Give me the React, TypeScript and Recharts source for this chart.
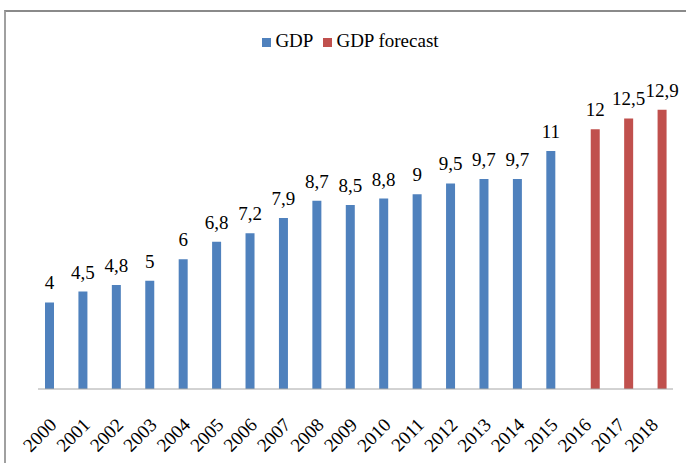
import { Bar, BarChart, LabelList, Legend, XAxis, YAxis } from "recharts";

const years = [
  "2000", "2001", "2002", "2003", "2004", "2005", "2006", "2007", "2008", "2009",
  "2010", "2011", "2012", "2013", "2014", "2015", "2016", "2017", "2018",
];
const gdp = [4, 4.5, 4.8, 5, 6, 6.8, 7.2, 7.9, 8.7, 8.5, 8.8, 9, 9.5, 9.7, 9.7, 11, null, null, null];
const forecast = [null, null, null, null, null, null, null, null, null, null, null, null, null, null, null, null, 12, 12.5, 12.9];

const data = years.map((year, i) => ({ year, gdp: gdp[i], forecast: forecast[i] }));

const FONT = "'Liberation Serif', 'Times New Roman', serif";

// comma as decimal separator, like the original
const fmt = (v: any) => (v == null ? "" : String(v).replace(".", ","));

function YearTick({ x, y, payload }: any) {
  const ax = x + 3;
  const ay = y + 29;
  return (
    <text
      x={ax}
      y={ay}
      transform={`rotate(-45, ${ax}, ${ay})`}
      textAnchor="end"
      fontSize={19}
      fontFamily={FONT}
      fill="#000"
    >
      {payload.value}
    </text>
  );
}

export default function App() {
  return (
    <div style={{ position: "fixed", left: 0, top: 0, width: 686, height: 463, overflow: "hidden", background: "#fff" }}>
      <div
        style={{
          position: "absolute",
          left: 4,
          top: 10,
          width: 720,
          height: 500,
          borderTop: "2px solid #8a8a8a",
          borderLeft: "2px solid #a0a0a0",
        }}
      />
      <div style={{ position: "absolute", left: 0, top: 0 }}>
        <BarChart
          width={686}
          height={463}
          data={data}
          margin={{ top: 62, right: 13, bottom: 0, left: 38 }}
          barSize={9}
          barGap={2}
        >
          <Legend
            verticalAlign="top"
            align="center"
            height={24}
            iconType="square"
            iconSize={9}
            wrapperStyle={{ top: 30, left: 38, fontFamily: FONT, fontSize: 19 }}
            formatter={(value: string) => <span style={{ color: "#000" }}>{value}</span>}
          />
          <XAxis
            dataKey="year"
            interval={0}
            tickLine={false}
            axisLine={{ stroke: "#a6a6a6", strokeWidth: 1 }}
            tick={<YearTick />}
            height={74}
          />
          <YAxis hide domain={[0, 14]} />
          <Bar dataKey="gdp" name="GDP" fill="#4f81bd" isAnimationActive={false}>
            <LabelList dataKey="gdp" position="top" offset={13} formatter={fmt} fontSize={19} fontFamily={FONT} fill="#000" />
          </Bar>
          <Bar dataKey="forecast" name="GDP forecast" fill="#c0504d" isAnimationActive={false}>
            <LabelList dataKey="forecast" position="top" offset={13} formatter={fmt} fontSize={19} fontFamily={FONT} fill="#000" />
          </Bar>
        </BarChart>
      </div>
    </div>
  );
}
